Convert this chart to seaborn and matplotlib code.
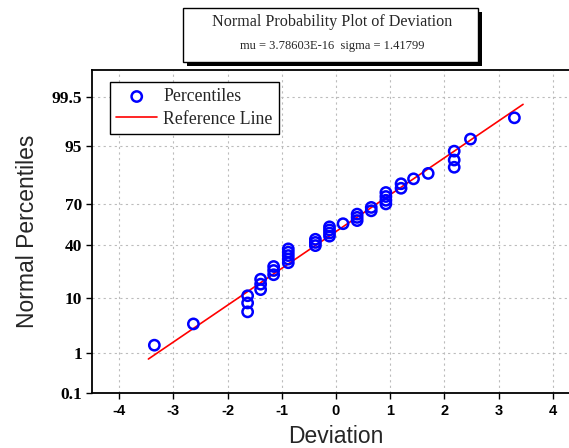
from statistics import NormalDist

import matplotlib

matplotlib.use("Agg")
import matplotlib.pyplot as plt
import numpy as np
import pandas as pd
import seaborn as sns
from matplotlib.patches import Rectangle


MU = 3.78603e-16
SIGMA = 1.41799

# sorted deviations and their plotted percentiles
deviation = [
    -3.35, -2.63, -1.63, -1.63, -1.63, -1.39, -1.39, -1.39, -1.15, -1.15,
    -1.15, -0.88, -0.88, -0.88, -0.88, -0.88, -0.38, -0.38, -0.38, -0.12,
    -0.12, -0.12, -0.12, 0.13, 0.39, 0.39, 0.39, 0.65, 0.65, 0.92,
    0.92, 0.92, 0.92, 1.20, 1.20, 1.43, 1.70, 2.18, 2.18, 2.18,
    2.48, 3.29,
]
percentile = [
    1.48, 3.85, 6.21, 8.58, 10.95, 13.31, 15.68, 18.05, 20.41, 22.78,
    25.15, 27.51, 29.88, 32.25, 34.62, 36.98, 39.35, 41.72, 44.08, 46.45,
    48.82, 51.18, 53.55, 55.92, 58.28, 60.65, 63.02, 65.38, 67.75, 70.12,
    72.49, 74.85, 77.22, 79.59, 81.95, 84.32, 86.69, 89.05, 91.42, 93.79,
    96.15, 98.52,
]
ref_x = [-3.46, 3.45]

x_ticks = [-4, -3, -2, -1, 0, 1, 2, 3, 4]
y_ticks = [0.1, 1, 10, 40, 70, 95, 99.5]
y_tick_labels = ["0.1", "1", "10", "40", "70", "95", "99.5"]

W, H = 569, 448
_std = NormalDist()


def to_z(p):
    p = np.asarray(p, dtype=float)
    bad = ~np.isfinite(p)
    p = np.clip(np.where(bad, 50.0, p), 1e-6, 100 - 1e-6) / 100
    z = np.vectorize(_std.inv_cdf, otypes=[float])(p) if p.size else p
    return np.where(bad, np.nan, z)


def to_pct(z):
    z = np.asarray(z, dtype=float)
    if not z.size:
        return z
    return np.vectorize(_std.cdf, otypes=[float])(z) * 100


points = pd.DataFrame({"Deviation": deviation, "Percentile": percentile})
ref_dist = NormalDist(MU, SIGMA)
ref = pd.DataFrame({"Deviation": ref_x, "Percentile": [ref_dist.cdf(v) * 100 for v in ref_x]})

sns.set_style("ticks")
plt.rcParams["font.family"] = ["Liberation Serif", "DejaVu Sans"]

fig = plt.figure(figsize=(W / 100, H / 100), dpi=100)
ax = fig.add_axes([92 / W, 55 / H, 488 / W, 323 / H])

sns.lineplot(data=ref, x="Deviation", y="Percentile", color="red", linewidth=1.2,
             label="Reference Line", ax=ax, zorder=2)
sns.scatterplot(data=points, x="Deviation", y="Percentile", marker="o", s=55,
                color="blue", facecolor="none", edgecolor="blue", linewidth=1.8,
                label="Percentiles", ax=ax, zorder=3)

ax.set_yscale("function", functions=(to_z, to_pct))
ax.set_xlim(-4.5, 4.5)
ax.set_ylim(0.1, 99.9)

ax.set_xticks(x_ticks, labels=[str(t) for t in x_ticks], fontfamily="Liberation Sans",
              fontweight="bold", fontsize=10.5)
ax.set_yticks(y_ticks, labels=y_tick_labels, fontfamily="Liberation Serif",
              fontweight="bold", fontsize=12.5)
ax.minorticks_off()
ax.tick_params(direction="out", length=4, width=1, colors="black", pad=3)
ax.tick_params(axis="x", pad=4)
ax.grid(True, color="#bcbcbc", linestyle=(0, (2, 3)), linewidth=0.8)
for side in ax.spines.values():
    side.set_visible(True)
    side.set_color("black")
    side.set_linewidth(1.3)

ax.set_xlabel("Deviation", fontfamily="Liberation Sans", fontsize=16.5, labelpad=5)
ax.set_ylabel("Normal Percentiles", fontfamily="Liberation Sans", fontsize=16.5, labelpad=9)

handles, labels = ax.get_legend_handles_labels()
order = [labels.index("Percentiles"), labels.index("Reference Line")]
ax.legend([handles[i] for i in order], [labels[i] for i in order],
          loc="upper left", bbox_to_anchor=(0.037, 0.963), borderaxespad=0,
          frameon=True, fancybox=False, framealpha=1, edgecolor="black",
          prop={"family": "Liberation Serif", "size": 12.8},
          handlelength=2.3, handletextpad=0.35, borderpad=0.35, labelspacing=0.3)
ax.get_legend().get_frame().set_linewidth(1.0)

# title box with drop shadow
fig.patches.append(Rectangle((187 / W, 1 - 66 / H), 295 / W, 54 / H,
                             transform=fig.transFigure, facecolor="black", edgecolor="none"))
fig.patches.append(Rectangle((183 / W, 1 - 62 / H), 295 / W, 54 / H,
                             transform=fig.transFigure, facecolor="white", edgecolor="black",
                             linewidth=1.0))
fig.text(332 / W, 1 - 22 / H, "Normal Probability Plot of Deviation", ha="center", va="center",
         fontfamily="Liberation Serif", fontsize=11.6)
fig.text(332 / W, 1 - 46 / H, "mu = 3.78603E-16  sigma = 1.41799", ha="center", va="center",
         fontfamily="Liberation Serif", fontsize=9)

fig.savefig("out.png", dpi=100)
